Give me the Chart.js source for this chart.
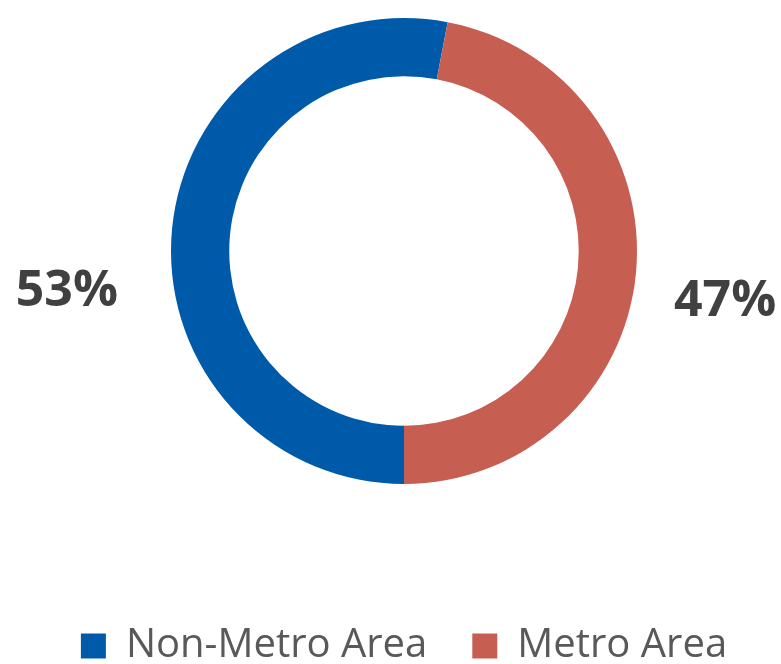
<!DOCTYPE html>
<html>
<head>
<meta charset="utf-8">
<script src="https://cdn.jsdelivr.net/npm/chart.js@4"></script>
<style>
  html, body { margin: 0; padding: 0; background: #fff; }
  #wrap { width: 781px; height: 664px; }
</style>
</head>
<body>
<div id="wrap"><canvas id="myChart"></canvas></div>
<script>
const areaLabels = ['Non-Metro Area', 'Metro Area'];
const areaShares = [53, 47];
const areaColors = ['#005AAA', '#C65E51'];

// percent labels outside the ring, left and right of it
const sideLabels = {
  id: 'sideLabels',
  afterDatasetsDraw(chart) {
    const ctx = chart.ctx;
    const arcs = chart.getDatasetMeta(0).data;
    ctx.save();
    ctx.font = 'bold 50px "Open Sans"';
    ctx.fillStyle = '#404040';
    ctx.textBaseline = 'middle';
    arcs.forEach((arc, i) => {
      const r = arc.outerRadius;
      const mid = (arc.startAngle + arc.endAngle) / 2;
      const txt = areaShares[i] + '%';
      if (Math.cos(mid) < 0) {
        ctx.textAlign = 'right';
        ctx.fillText(txt, arc.x - r - 53, arc.y + 41);
      } else {
        ctx.textAlign = 'left';
        ctx.fillText(txt, arc.x + r + 37, arc.y + 51);
      }
    });
    ctx.restore();
  }
};

const ctx = document.getElementById('myChart');
new Chart(ctx, {
  type: 'doughnut',
  data: {
    labels: areaLabels,
    datasets: [{
      data: areaShares,
      backgroundColor: areaColors,
      borderWidth: 0
    }]
  },
  options: {
    responsive: true,
    maintainAspectRatio: false,
    animation: false,
    rotation: 180,
    cutout: '75%',
    layout: { padding: { top: 18, left: 27, right: 0, bottom: -12 } },
    plugins: {
      tooltip: { enabled: false },
      legend: {
        position: 'bottom',
        title: { display: true, text: '', font: { size: 10 }, padding: { top: 85, bottom: 0 } },
        labels: {
          boxWidth: 25,
          boxHeight: 25,
          padding: 45,
          color: '#595959',
          font: { family: '"Open Sans"', size: 40 }
        }
      }
    }
  },
  plugins: [sideLabels]
});
</script>
</body>
</html>
